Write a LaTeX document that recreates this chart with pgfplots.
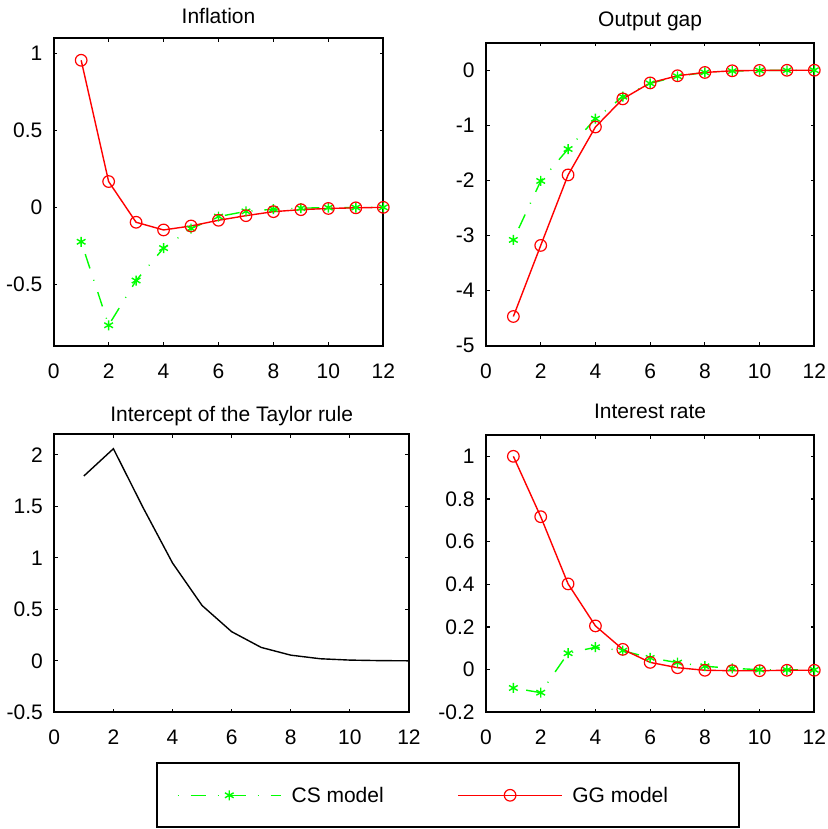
\documentclass[border=0pt]{standalone}
\usepackage{fontspec}
\setmainfont{Liberation Sans}
\usepackage{pgfplots}
\pgfplotsset{compat=1.18}
\newcommand\myfont{\fontsize{10.5pt}{12pt}\selectfont}
\definecolor{mgreen}{rgb}{0,1,0}
\definecolor{mred}{rgb}{1,0,0}

\pgfplotsset{
 every axis title/.style={at={(0.5,1)}, anchor=base, yshift=7.5pt, font=\myfont, inner sep=0pt},
 mystyle/.style={
  scale only axis, anchor=south west, clip=false,
  xmin=0, xmax=12, xtick={0,2,...,12},
  axis line style={line width=1pt},
  every tick/.style={black, line width=0.6pt},
  major tick length=1.8pt,
  tick align=inside,
  tick label style={font=\myfont},
  /pgf/number format/assume math mode=true,
  xticklabel style={anchor=north, inner sep=0pt, yshift=-8.8pt},
  yticklabel style={anchor=east, inner sep=0pt, xshift=-5.5pt},
 },
 cs/.style={color=mgreen, line width=0.7pt, dash pattern=on 0.5pt off 6pt on 7.5pt off 6pt, mark=asterisk, mark size=2.5pt, mark options={solid, line width=0.7pt},
   legend image code/.code={\draw[mgreen, line width=0.7pt, dash pattern=on 0.5pt off 6pt on 7.5pt off 6pt] (0pt,0pt) -- (51.6pt,0pt);
     \draw[mgreen, line width=0.7pt, solid] plot[mark=asterisk, mark size=2.5pt] coordinates {(25.8pt,0pt)};}},
 gg/.style={color=mred, line width=0.7pt, mark=o, mark size=2.9pt, mark options={solid, line width=0.6pt},
   legend image code/.code={\draw[mred, line width=0.7pt] (0pt,0pt) -- (51.6pt,0pt);
     \draw[mred, line width=0.6pt] plot[mark=o, mark size=2.9pt] coordinates {(25.8pt,0pt)};}},
}

\begin{document}
\begin{tikzpicture}
\path (0,0) rectangle (414pt,414.5pt);

% Inflation
\begin{axis}[mystyle, at={(26.85pt,241.65pt)}, width=164.8pt, height=153.7pt,
  ymin=-0.9, ymax=1.1, ytick={-0.5,0,0.5,1}, title={Inflation}]
\addplot[cs] coordinates {(1,-0.224)(2,-0.767)(3,-0.476)(4,-0.265)(5,-0.138)(6,-0.060)(7,-0.026)(8,-0.012)(9,-0.005)(10,-0.002)(11,-0.001)(12,0)};
\addplot[gg] coordinates {(1,0.957)(2,0.168)(3,-0.097)(4,-0.147)(5,-0.121)(6,-0.084)(7,-0.054)(8,-0.028)(9,-0.015)(10,-0.007)(11,-0.003)(12,0)};
\end{axis}

% Output gap
\begin{axis}[mystyle, at={(243pt,241.65pt)}, width=164.15pt, height=151.5pt,
  ymin=-5, ymax=0.5, ytick={-5,-4,-3,-2,-1,0}, title={Output gap}, title style={yshift=0.5pt}]
\addplot[cs] coordinates {(1,-3.08)(2,-2.01)(3,-1.43)(4,-0.88)(5,-0.48)(6,-0.24)(7,-0.11)(8,-0.04)(9,-0.015)(10,-0.005)(11,-0.002)(12,0)};
\addplot[gg] coordinates {(1,-4.47)(2,-3.18)(3,-1.90)(4,-1.03)(5,-0.52)(6,-0.23)(7,-0.10)(8,-0.04)(9,-0.01)(10,-0.003)(11,-0.001)(12,0)};
\end{axis}

% Intercept of the Taylor rule
\begin{axis}[mystyle, at={(27.15pt,58.35pt)}, width=177.35pt, height=139pt,
  ymin=-0.5, ymax=2.2, ytick={-0.5,0,0.5,1,1.5,2}, title={Intercept of the Taylor rule}, title style={yshift=-1.2pt}]
\addplot[black, line width=0.7pt] coordinates {(1,1.795)(2,2.06)(3,1.49)(4,0.95)(5,0.537)(6,0.283)(7,0.13)(8,0.055)(9,0.02)(10,0.007)(11,0.002)(12,0)};
\end{axis}

% Interest rate
\begin{axis}[mystyle, at={(243pt,58.35pt)}, width=164.15pt, height=138.65pt,
  ymin=-0.2, ymax=1.1, ytick={-0.2,0,0.2,0.4,0.6,0.8,1}, title={Interest rate}, title style={yshift=0.5pt},
  legend columns=2,
  legend cell align=left,
  legend style={at={(-1.0052,-0.2993)}, anchor=west, draw=black, line width=1pt,
    inner xsep=10pt, inner ysep=12.2pt, font=\myfont,
    nodes={inner sep=0pt, text height=7.6pt, text depth=0pt},
    column sep=0pt,
    /tikz/every odd column/.append style={column sep=5pt},
    /tikz/every even column/.append style={column sep=37pt}}]
\addplot[cs] coordinates {(1,-0.086)(2,-0.108)(3,0.077)(4,0.105)(5,0.089)(6,0.055)(7,0.033)(8,0.016)(9,0.006)(10,0.0)(11,-0.001)(12,-0.001)};
\addlegendentry{CS model}
\addplot[gg] coordinates {(1,1.0)(2,0.717)(3,0.402)(4,0.205)(5,0.095)(6,0.034)(7,0.009)(8,-0.003)(9,-0.005)(10,-0.005)(11,-0.003)(12,-0.003)};
\addlegendentry{GG model\hspace*{25.5pt}}
\end{axis}
\end{tikzpicture}
\end{document}
